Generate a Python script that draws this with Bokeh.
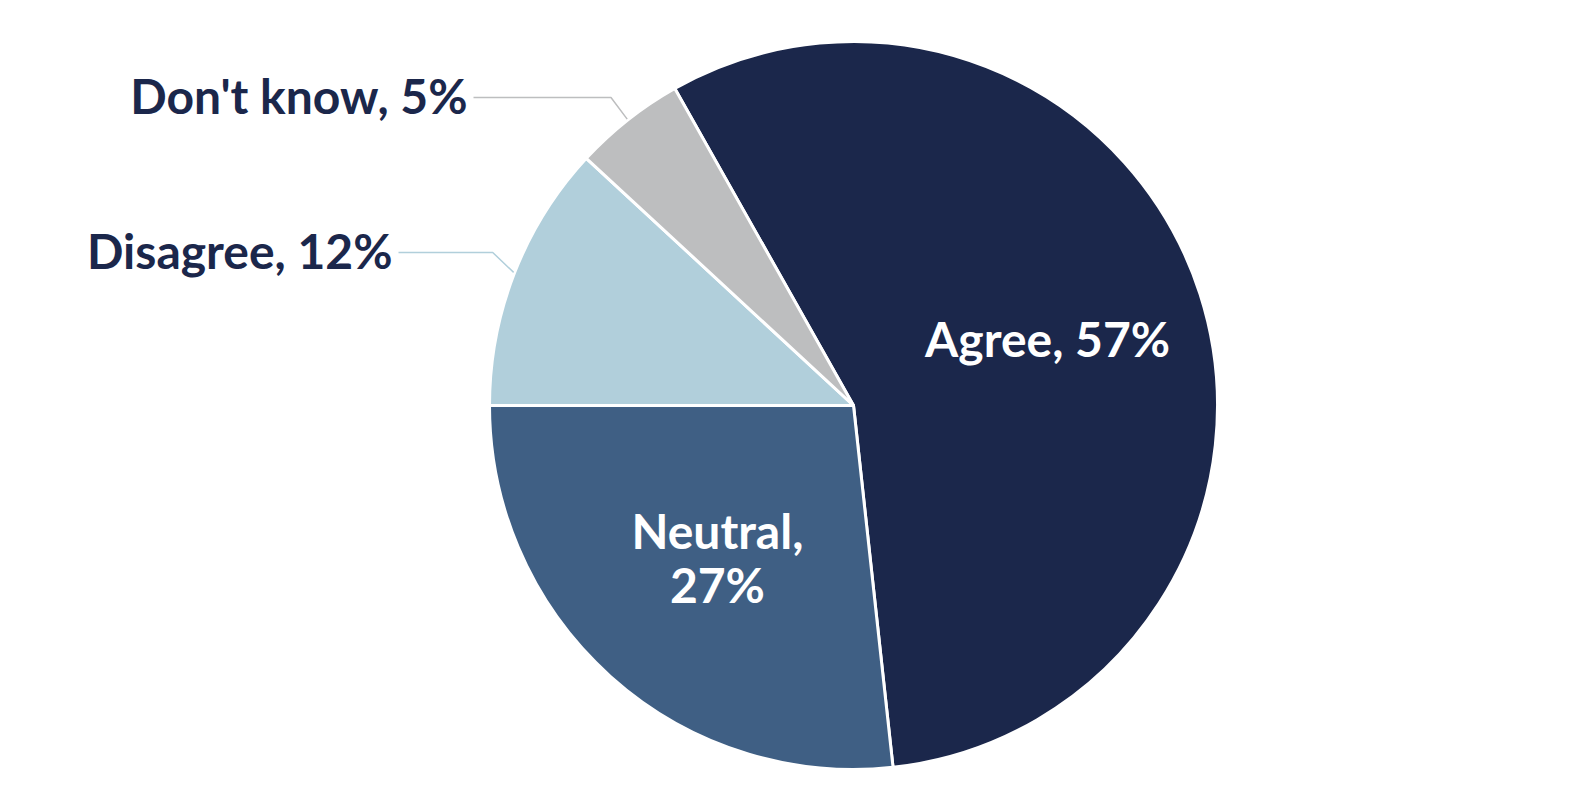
import math
from bokeh.plotting import figure
from bokeh.models import Range1d, ColumnDataSource
from bokeh.core.properties import value
from bokeh.embed import file_html
from bokeh.resources import INLINE

# ---- data ----
categories = ["Agree", "Neutral", "Disagree", "Don't know"]
percents = [57, 27, 12, 5]
colors = ["#1b274b", "#3f5f84", "#b1cfdb", "#bdbebf"]
inside = [True, True, False, False]

# ---- layout ----
W, H = 1566, 778
def to_data(sx, sy):
    return sx, H - sy

CX, CY = to_data(853, 405)
R = 364
total = sum(percents)
# Disagree slice begins at 9 o'clock; going clockwise Disagree, Don't know, Agree, Neutral
start0 = math.pi - 2 * math.pi * (percents[2] + percents[3]) / total

p = figure(width=W, height=H, x_range=Range1d(0, W), y_range=Range1d(0, H),
           output_backend="svg", toolbar_location=None, min_border=0)
p.axis.visible = False
p.grid.visible = False
p.outline_line_color = None
p.background_fill_color = "white"
p.border_fill_color = "white"

starts, ends, mids = [], [], []
a = start0
for v in percents:
    span = 2 * math.pi * v / total
    starts.append(a)
    ends.append(a - span)
    mids.append(a - span / 2)
    a -= span

src = ColumnDataSource(dict(start=starts, end=ends, color=colors))
p.wedge(x=CX, y=CY, radius=R, start_angle="start", end_angle="end",
        direction="clock", fill_color="color", line_color="white",
        line_width=3, source=src)

font = value("Lato")
FS = "48px"

# inside labels
label_texts = {"Agree": "Agree, 57%", "Neutral": "Neutral,\n27%"}
label_dy = {"Agree": 5, "Neutral": 0}
for cat, v, m, ins in zip(categories, percents, mids, inside):
    if ins:
        lx = CX + 0.56 * R * math.cos(m)
        ly = CY + 0.56 * R * math.sin(m) + label_dy[cat]
        txt = label_texts.get(cat, f"{cat}, {v}%")
        p.text(x=[lx], y=[ly], text=[txt], text_font=font, text_font_style="bold",
               text_font_size=FS, text_color="white", text_align="center",
               text_baseline="middle", text_line_height=0.95)

# outside labels with connectors
label_y_screen = {"Disagree": 252, "Don't know": 97}
label_end_x_screen = {"Disagree": 398, "Don't know": 473}
for i, (cat, v, m, c) in enumerate(zip(categories, percents, mids, colors)):
    if inside[i]:
        continue
    ex = CX + (R + 1) * math.cos(m)
    ey = CY + (R + 1) * math.sin(m)
    _, ly = to_data(0, label_y_screen[cat])
    lx, _ = to_data(label_end_x_screen[cat], 0)
    bx = ex - 0.75 * abs(ly - ey) if cat == "Don't know" else ex - 1.05 * abs(ly - ey)
    p.line(x=[ex, bx, lx], y=[ey, ly, ly], line_color=c, line_width=1.5)
    p.text(x=[lx - 6], y=[ly + 2], text=[f"{cat}, {v}%"], text_font=font,
           text_font_style="bold", text_font_size=FS, text_color="#1b274b",
           text_align="right", text_baseline="middle")

open("out.html", "w").write(file_html(p, INLINE))
